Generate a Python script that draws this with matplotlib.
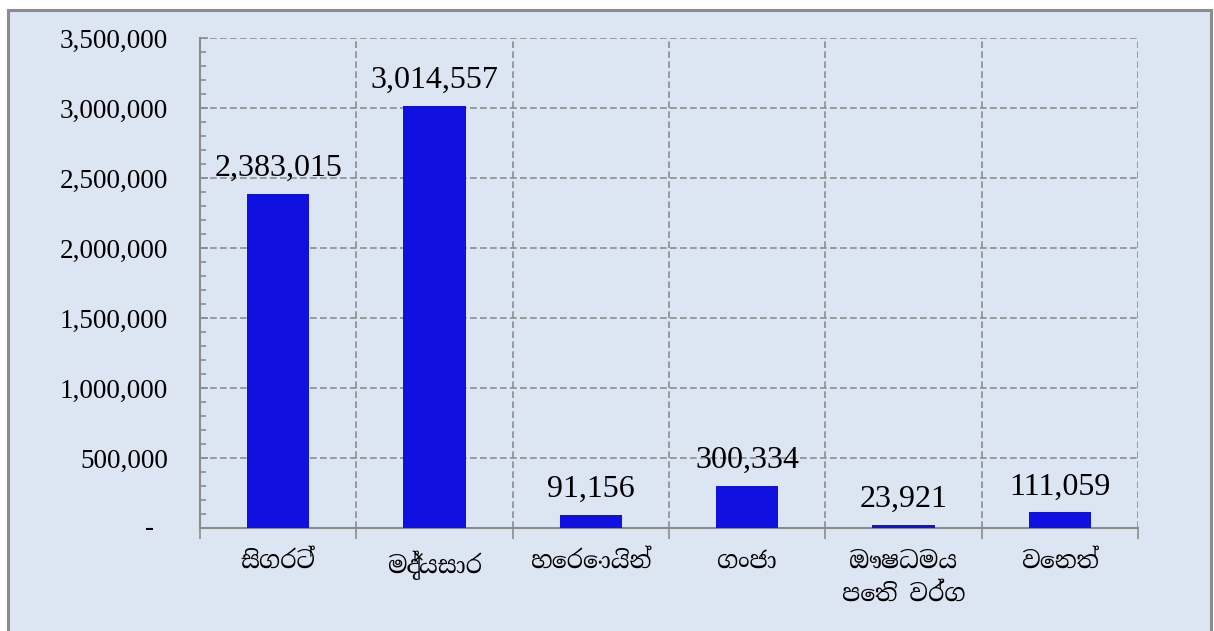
import matplotlib
matplotlib.use("Agg")
import matplotlib.pyplot as plt
from matplotlib.ticker import MultipleLocator, FuncFormatter
from matplotlib.patches import Rectangle

categories = ["සිගරට්", "මද්‍යසාර", "හෙරොයින්", "ගංජා", "ඖෂධමය\nපෙති වර්ග", "වෙනත්"]
values = [2383015, 3014557, 91156, 300334, 23921, 111059]
value_labels = ["2,383,015", "3,014,557", "91,156", "300,334", "23,921", "111,059"]

serif = "Liberation Serif"

W, H, DPI = 1214, 631, 100
fig = plt.figure(figsize=(W / DPI, H / DPI), dpi=DPI, facecolor="white")
bg = "#DCE6F2"
fig.patches.append(Rectangle((8 / W, -0.01), (1211 - 8) / W, 1 - 10 / H + 0.01,
                             transform=fig.transFigure, facecolor=bg,
                             edgecolor="#8C8C8C", linewidth=2.2, zorder=-5))

ax = fig.add_axes([200 / W, 1 - 528 / H, (1138 - 200) / W, (528 - 38) / H])
ax.set_facecolor(bg)
ax.patch.set_alpha(0)

x = list(range(len(categories)))
ax.bar(x, values, width=0.4, color="#1010E0", zorder=3)
ax.set_xlim(-0.5, len(categories) - 0.5)
ax.set_ylim(0, 3500000)

for xi, v, lab in zip(x, values, value_labels):
    ax.annotate(lab, (xi, v), xytext=(0, 8), textcoords="offset points",
                ha="center", va="bottom", fontsize=23, family=serif,
                color="black", zorder=4)

ax.yaxis.set_major_locator(MultipleLocator(500000))
ax.yaxis.set_minor_locator(MultipleLocator(100000))
ax.yaxis.set_major_formatter(FuncFormatter(lambda v, p: "" if v == 0 else f"{int(v):,}"))
ax.tick_params(axis="y", which="major", direction="in", length=6, width=1.2,
               color="#8C8C8C", labelsize=19.5, pad=23)
ax.tick_params(axis="y", which="minor", direction="in", length=4, width=1.2, color="#8C8C8C")
for t in ax.get_yticklabels():
    t.set_family(serif)
# zero label shown as a dash, as in the reference
ax.annotate("-", (0, 0), xycoords=("axes fraction", "data"), xytext=(-33, 0),
            textcoords="offset points", ha="right", va="center", fontsize=19.5, family=serif)

ax.set_xticks([i - 0.5 for i in range(len(categories) + 1)])
ax.set_xticklabels([])
ax.set_xticks(x, minor=True)
ax.set_xticklabels(categories, minor=True, fontsize=17,
                   family=["Noto Serif Sinhala", serif], linespacing=1.45)
ax.tick_params(axis="x", which="major", direction="out", length=8, width=1.2, color="#8C8C8C")
ax.tick_params(axis="x", which="minor", length=0, pad=16)

ax.grid(True, which="major", axis="both", color="#8C8C8C", linestyle=(0, (4, 2)), linewidth=1.2, zorder=1)
for s in ["top", "right"]:
    ax.spines[s].set_visible(False)
for s in ["left", "bottom"]:
    ax.spines[s].set_color("#8C8C8C")
    ax.spines[s].set_linewidth(1.5)

fig.savefig("out.png", dpi=DPI, facecolor="white")
